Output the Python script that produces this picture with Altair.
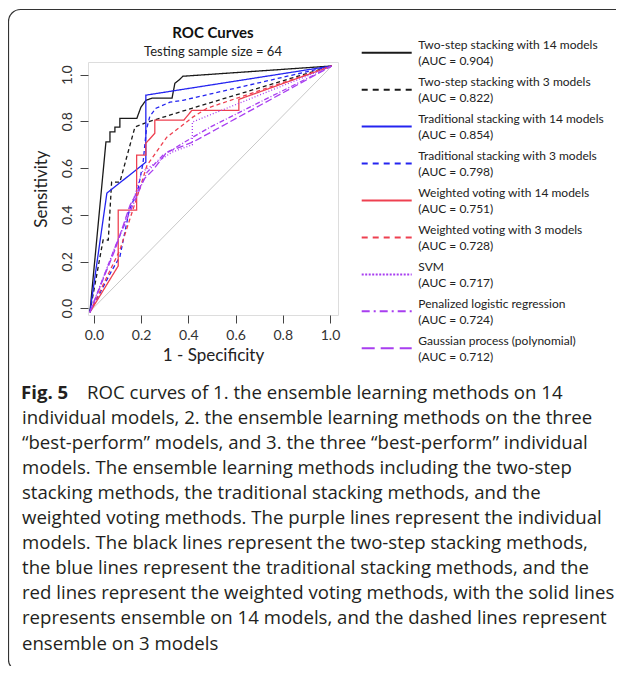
import altair as alt
import pandas as pd

# ---------------- data ----------------
names = [
    "Two-step stacking with 14 models",
    "Two-step stacking with 3 models",
    "Traditional stacking with 14 models",
    "Traditional stacking with 3 models",
    "Weighted voting with 14 models",
    "Weighted voting with 3 models",
    "SVM",
    "Penalized logistic regression",
    "Gaussian process (polynomial)",
]
auc = [0.904, 0.822, 0.854, 0.798, 0.751, 0.728, 0.717, 0.724, 0.712]

fpr_two14 = [-0.017, 0.051, 0.068, 0.068, 0.089, 0.089, 0.110, 0.110, 0.182, 0.199, 0.220, 0.246, 0.331, 0.343, 0.364, 0.377, 1.008]
tpr_two14 = [-0.017, 0.712, 0.712, 0.755, 0.755, 0.775, 0.775, 0.813, 0.813, 0.860, 0.890, 0.899, 0.899, 0.963, 0.980, 0.993, 1.037]

fpr_two3 = [-0.017, 0.039, 0.061, 0.075, 0.110, 0.174, 0.225, 0.415, 1.008]
tpr_two3 = [-0.017, 0.292, 0.292, 0.540, 0.540, 0.776, 0.796, 0.856, 1.037]

fpr_trad14 = [-0.017, 0.055, 0.220, 0.220, 1.008]
tpr_trad14 = [-0.017, 0.493, 0.625, 0.912, 1.037]

fpr_trad3 = [-0.017, 0.075, 0.110, 0.150, 0.186, 0.208, 0.222, 0.237, 0.263, 0.322, 0.377, 1.008]
tpr_trad3 = [-0.017, 0.160, 0.220, 0.420, 0.506, 0.621, 0.762, 0.822, 0.856, 0.882, 0.890, 1.037]

fpr_wv14 = [-0.017, 0.103, 0.103, 0.181, 0.181, 0.220, 0.220, 0.258, 0.258, 0.381, 0.415, 0.614, 0.614, 1.008]
tpr_wv14 = [-0.017, 0.181, 0.420, 0.420, 0.655, 0.655, 0.706, 0.749, 0.805, 0.805, 0.847, 0.847, 0.894, 1.037]

fpr_wv3 = [-0.017, 0.110, 0.199, 0.225, 0.309, 0.419, 0.479, 1.008]
tpr_wv3 = [-0.017, 0.249, 0.527, 0.612, 0.732, 0.818, 0.856, 1.037]

fpr_svm = [-0.017, 0.102, 0.174, 0.203, 0.331, 0.417, 0.417, 1.008]
tpr_svm = [-0.017, 0.292, 0.484, 0.583, 0.668, 0.700, 0.797, 1.037]

fpr_plr = [-0.017, 0.093, 0.165, 0.225, 0.292, 0.419, 0.492, 1.008]
tpr_plr = [-0.017, 0.271, 0.441, 0.582, 0.655, 0.732, 0.775, 1.037]

fpr_gp = [-0.017, 0.089, 0.153, 0.216, 0.250, 0.309, 0.419, 1.008]
tpr_gp = [-0.017, 0.249, 0.441, 0.557, 0.591, 0.668, 0.711, 1.037]

diag_fpr = [-0.010, 1.008]
diag_tpr = [-0.007, 1.037]

x_ticks = [0.0, 0.2, 0.4, 0.6, 0.8, 1.0]
y_ticks = [0.0, 0.2, 0.4, 0.6, 0.8, 1.0]

title_text = "ROC Curves"
subtitle_text = "Testing sample size = 64"

caption_lines = [
    "ROC curves of 1. the ensemble learning methods on 14",
    "individual models, 2. the ensemble learning methods on the three",
    "\u201cbest-perform\u201d models, and 3. the three \u201cbest-perform\u201d individual",
    "models. The ensemble learning methods including the two-step",
    "stacking methods, the traditional stacking methods, and the",
    "weighted voting methods. The purple lines represent the individual",
    "models. The black lines represent the two-step stacking methods,",
    "the blue lines represent the traditional stacking methods, and the",
    "red lines represent the weighted voting methods, with the solid lines",
    "represents ensemble on 14 models, and the dashed lines represent",
    "ensemble on 3 models",
]
fig_label = "Fig. 5"

# ---------------- build tables ----------------
fprs = [fpr_two14, fpr_two3, fpr_trad14, fpr_trad3, fpr_wv14, fpr_wv3, fpr_svm, fpr_plr, fpr_gp]
tprs = [tpr_two14, tpr_two3, tpr_trad14, tpr_trad3, tpr_wv14, tpr_wv3, tpr_svm, tpr_plr, tpr_gp]

rows = []
for name, f, t in zip(names, fprs, tprs):
    for j, (a, b) in enumerate(zip(f, t)):
        rows.append({"label": name, "fpr": a, "tpr": b, "ord": j})
df = pd.DataFrame(rows)
leg_df = pd.DataFrame({
    "idx": list(range(len(names))),
    "label": names,
    "auc_txt": [f"(AUC = {a:.3f})" for a in auc],
})
diag_df = pd.DataFrame({"fpr": diag_fpr, "tpr": diag_tpr})
cap_df = pd.DataFrame({"i": list(range(len(caption_lines))), "txt": caption_lines})
fig_df = pd.DataFrame({"txt": [fig_label]})
title_df = pd.DataFrame({"txt": [title_text]})
subtitle_df = pd.DataFrame({"txt": [subtitle_text]})

# ---------------- styles ----------------
FONT = "Lato"
CAP_FONT = "Open Sans"
line_colors = ["#1a1a1a", "#1a1a1a", "#2424f0", "#2424f0", "#ee4050", "#ee4050",
               "#a83ef0", "#a83ef0", "#a83ef0"]
plot_dash = [[1, 0], [4, 3], [1, 0], [4, 3], [1, 0], [4, 3], [1, 2], [5, 2, 1, 2], [7, 3]]
legend_dash = [[1, 0], [6, 5], [1, 0], [6, 5], [1, 0], [6, 5], [2, 1.5], [8, 4, 2, 4], [13, 6]]

color_scale = alt.Scale(domain=names, range=line_colors)

xs = alt.Scale(domain=[-0.025, 1.034], nice=False, zero=False)
ys = alt.Scale(domain=[-0.029, 1.054], nice=False, zero=False)

x_axis = alt.Axis(values=x_ticks, format=".1f", grid=False, domain=False, tickSize=8,
                  tickColor="#444", labelFontSize=14, labelColor="#333", labelFont=FONT,
                  labelPadding=5, title="1 - Specificity", titleFont=FONT, titleFontSize=17,
                  titleFontWeight="normal", titleColor="#222", titlePadding=5)
y_axis = alt.Axis(values=y_ticks, format=".1f", grid=False, domain=False, tickSize=8,
                  tickColor="#444", labelFontSize=14, labelColor="#333", labelFont=FONT,
                  labelAngle=270, labelAlign="center", labelBaseline="bottom", labelPadding=6,
                  title="Sensitivity", titleFont=FONT, titleFontSize=17,
                  titleFontWeight="normal", titleColor="#222", titlePadding=10)

X = alt.X("fpr:Q", scale=xs, axis=x_axis)
Y = alt.Y("tpr:Q", scale=ys, axis=y_axis)

diag = alt.Chart(diag_df).mark_line(color="#c8c8c8", strokeWidth=1).encode(x=X, y=Y)

curves = alt.Chart(df).mark_line(strokeWidth=1.3).encode(
    x=X, y=Y,
    color=alt.Color("label:N", scale=color_scale, legend=None),
    strokeDash=alt.StrokeDash("label:N", scale=alt.Scale(domain=names, range=plot_dash), legend=None),
    detail="label:N",
    order="ord:Q",
)

# ---- legend drawn from the legend table (row position from its index) ----
leg_base = alt.Chart(leg_df).transform_calculate(
    ly="-9.3 + 36.95 * datum.idx",
    ly1="-9.3 + 36.95 * datum.idx - 7.5",
    ly2="-9.3 + 36.95 * datum.idx + 8.5",
)
leg_lines = leg_base.mark_rule(strokeWidth=2).encode(
    x=alt.value(273.7), x2=alt.value(323.7),
    y=alt.Y("ly:Q", scale=None, axis=None),
    color=alt.Color("label:N", scale=color_scale, legend=None),
    strokeDash=alt.StrokeDash("label:N", scale=alt.Scale(domain=names, range=legend_dash), legend=None),
)
leg_text1 = leg_base.mark_text(align="left", baseline="middle", font=FONT, fontSize=12,
                               color="#222").encode(
    x=alt.value(330.3), y=alt.Y("ly1:Q", scale=None, axis=None), text="label:N")
leg_text2 = leg_base.mark_text(align="left", baseline="middle", font=FONT, fontSize=12,
                               color="#222").encode(
    x=alt.value(330.3), y=alt.Y("ly2:Q", scale=None, axis=None), text="auc_txt:N")

title_layer = alt.Chart(title_df).mark_text(align="center", baseline="middle", font=FONT, fontSize=15,
                                            fontWeight="bold", color="#111").encode(
    x=alt.value(125), y=alt.value(-29.3), text="txt:N")
subtitle_layer = alt.Chart(subtitle_df).mark_text(align="center", baseline="middle", font=FONT,
                                                  fontSize=13, color="#222").encode(
    x=alt.value(125), y=alt.value(-10.3), text="txt:N")

caption = alt.Chart(cap_df).transform_calculate(
    py="330.5 + 25.1 * datum.i",
    px="datum.i == 0 ? -1 : -66",
).mark_text(align="left", baseline="middle", font=CAP_FONT, fontSize=18.6, color="#231f20").encode(
    x=alt.X("px:Q", scale=None, axis=None),
    y=alt.Y("py:Q", scale=None, axis=None),
    text="txt:N",
)

fig = alt.Chart(fig_df).mark_text(align="left", baseline="middle", font=CAP_FONT, fontSize=18.6,
                                  fontWeight="bold", color="#231f20").encode(
    x=alt.value(-67), y=alt.value(330.5), text="txt:N")

frame = alt.Chart(pd.DataFrame({"a": [0]})).mark_rect(
    fill=None, stroke="#333", strokeWidth=1.2, cornerRadiusTopLeft=12, cornerRadiusBottomLeft=10
).encode(x=alt.value(-79.5), x2=alt.value(600), y=alt.value(-52.5), y2=alt.value(608))

chart = alt.layer(
    frame, diag, curves, leg_lines, leg_text1, leg_text2,
    title_layer, subtitle_layer, caption, fig
).resolve_scale(
    strokeDash="independent"
).properties(
    width=250, height=253,
    autosize=alt.AutoSizeParams(type="none"),
    padding={"left": 80, "top": 54, "right": 278, "bottom": 351},
).configure_view(stroke="#a0a0a0", strokeWidth=1).configure(background="white")

chart.save("out.html", embed_options={"renderer": "svg", "actions": False})
